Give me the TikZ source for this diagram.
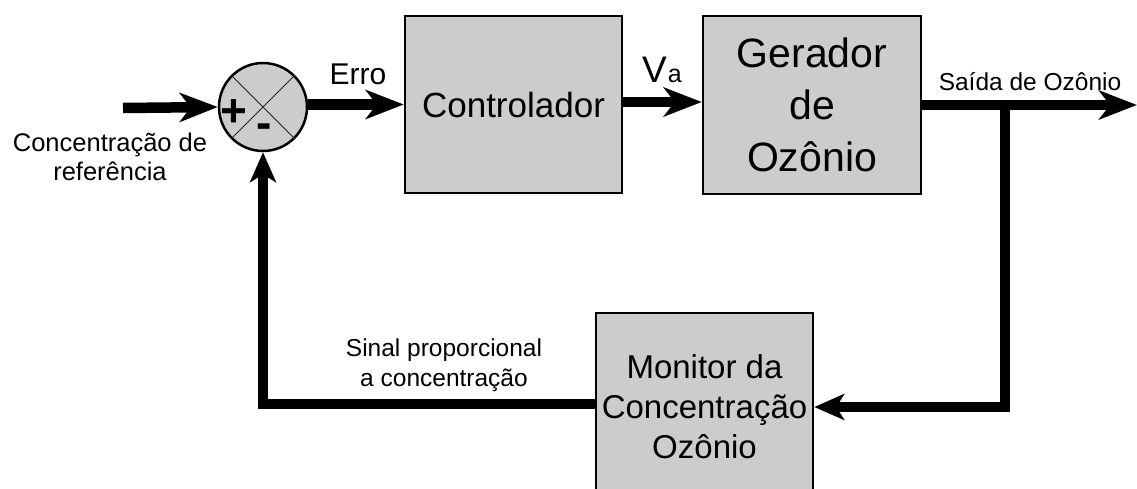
\documentclass[tikz,border=0pt]{standalone}
\usepackage{fontspec}
\setmainfont{Liberation Sans}
\usetikzlibrary{arrows.meta}
\definecolor{boxgray}{HTML}{CCCCCC}
\begin{document}
\begin{tikzpicture}[x=1pt,y=-1pt,
  blk/.style={draw=black, line width=2.5pt, fill=boxgray, inner sep=0pt, align=center},
  conn/.style={line width=10.5pt, black},
  harr/.style={conn, -{Stealth[length=38pt,width=29pt,inset=11pt]}},
  varr/.style={conn, -{Stealth[length=30pt,width=26pt,inset=8pt]}},
  lbl/.style={inner sep=0pt, align=center},
  sgn/.style={inner sep=0pt, font=\fontsize{46}{46}\selectfont\bfseries}
]
\clip (0,0) rectangle (1137,488);
\fill[white] (0,0) rectangle (1137,488);

% blocks
\node[blk, minimum width=217pt, minimum height=177pt, font=\fontsize{35}{40}\selectfont] (ctrl) at (513.5,104.5) {Controlador};
\node[blk, minimum width=218pt, minimum height=178pt, font=\fontsize{41}{52}\selectfont] (ger) at (812,105) {Gerador\\de\\Ozônio};
\node[blk, minimum width=217pt, minimum height=188pt, font=\fontsize{33}{40}\selectfont] (mon) at (704.5,407) {Monitor da\\Concentração\\Ozônio};

% summing junction
\node[circle, draw=black, line width=2.5pt, fill=boxgray, minimum size=88pt, inner sep=0pt] (sum) at (263,107) {};
\draw[line width=1pt, black!85] (sum.north west) -- (sum.south east);
\draw[line width=1pt, black!85] (sum.north east) -- (sum.south west);
\node[sgn] (plus) at (234,113) {+};
\node[sgn] (minus) at (264,131) {-};

% coordinates
\coordinate (in) at (123,108);
\coordinate (out) at (1137,105);
\coordinate (br) at (1005,105);
\coordinate (brd) at (1005,407);
\coordinate (fbc) at (263,404);

% connectors
\draw[harr] (in) -- (sum.west);
\draw[harr] (sum.east |- ctrl.west) -- (ctrl.west);
\draw[harr] (ctrl.east |- 0,102) -- (ger.west |- 0,102);
\draw[harr] (ger.east) -- (out);
\draw[conn] (br) -- (brd);
\draw[varr] ([xshift=5.25pt]brd) -- (mon.east);
\draw[conn] (mon.west |- fbc) -- ([xshift=-5.25pt]fbc);
\draw[varr] (fbc) -- (sum.south);

% labels
\node[lbl, font=\fontsize{25.5}{29}\selectfont] (ref) at (110,157) {Concentração de\\referência};
\node[lbl, font=\fontsize{30}{30}\selectfont] (erro) at (358,74) {Erro};
\node[lbl, font=\fontsize{37}{37}\selectfont, anchor=base west] (va) at (642,82) {V\kern1pt\fontsize{25}{25}\selectfont a};
\node[lbl, font=\fontsize{24.5}{28}\selectfont] (said) at (1030,82) {Saída de Ozônio};
\node[lbl, font=\fontsize{24.5}{30}\selectfont] (sinal) at (444,365) {Sinal proporcional\\a concentração};
\end{tikzpicture}
\end{document}
